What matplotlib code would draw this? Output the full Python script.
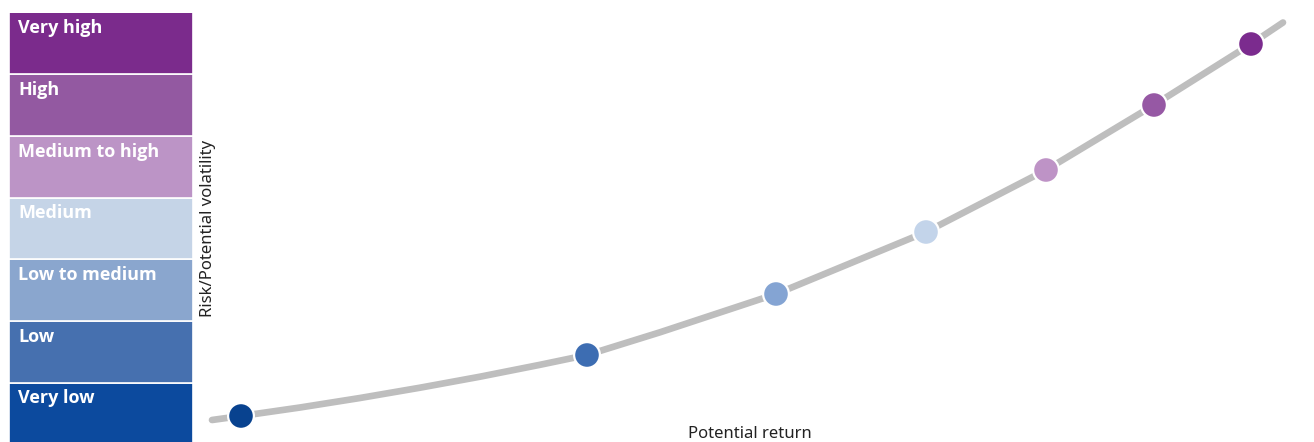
import matplotlib
matplotlib.use("Agg")
import matplotlib.pyplot as plt

# ---- data ----
risk_levels = ["Very low", "Low", "Low to medium", "Medium",
               "Medium to high", "High", "Very high"]
box_colors = ["#0C4A9E", "#4670AF", "#8AA6CE", "#C5D4E7",
              "#BC94C6", "#9359A1", "#7B2B8C"]
dot_colors = ["#08428F", "#3D6DB2", "#84A4D3", "#C3D4EA",
              "#BE93C6", "#9658A4", "#7B2B8E"]

# positions of the risk points (return units, volatility units)
point_return = [4.1, 38.7, 57.6, 72.6, 84.6, 95.4, 105.1]
point_risk = [2.6, 8.7, 14.8, 21.0, 27.2, 33.7, 39.8]

# gray curve
curve_return = [1.2, 4.1, 10.0, 16.0, 22.0, 28.0, 34.0, 38.7, 46.0,
                57.6, 72.6, 84.6, 95.4, 105.1, 108.3]
curve_risk = [2.2, 2.6, 3.45, 4.4, 5.43, 6.53, 7.72, 8.7, 10.97,
              14.8, 21.0, 27.2, 33.7, 39.8, 41.95]

W, H = 1314, 442
fig = plt.figure(figsize=(W / 100, H / 100), dpi=100)
fig.patch.set_facecolor("white")

FONT = ["Noto Sans", "DejaVu Sans"]
BOLD_FONT = ["Open Sans", "DejaVu Sans"]

# ---- left scale boxes ----
box_top_px, box_h_px = 12.5, 61.7
bottom_px = box_top_px + 7 * box_h_px
axl = fig.add_axes([9 / W, (H - bottom_px) / H, 184 / W, 7 * box_h_px / H])
axl.barh(range(7), [1] * 7, height=1.0, left=0, color=box_colors,
         edgecolor="white", linewidth=1.2, align="edge")
axl.set_xlim(0, 1)
axl.set_ylim(0, 7)
axl.axis("off")
for i, lab in enumerate(risk_levels):
    axl.text(0.05, i + 1 - 0.337, lab, color="white", fontsize=13,
             fontweight="bold", family=BOLD_FONT, va="baseline", ha="left")

# ---- main curve ----
ax = fig.add_axes([200 / W, 0, (W - 200) / W, 1])
ax.set_xlim(0, 111.4)
ax.set_ylim(0, 44.2)
ax.axis("off")
ax.plot(curve_return, curve_risk, color="#BEBEBE", linewidth=4.8,
        solid_capstyle="round", solid_joinstyle="round", zorder=1)
ax.scatter(point_return, point_risk, s=345, c=dot_colors,
           edgecolors="white", linewidths=1.6, zorder=3)

fig.text(207.5 / W, 1 - 228 / H, "Risk/Potential volatility", rotation=90,
         ha="center", va="center", fontsize=12, color="#222222", family=FONT)
fig.text(750 / W, (H - 438.3) / H, "Potential return", ha="center",
         va="baseline", fontsize=12, color="#222222", family=FONT)

fig.savefig("out.png", dpi=100, facecolor="white")
